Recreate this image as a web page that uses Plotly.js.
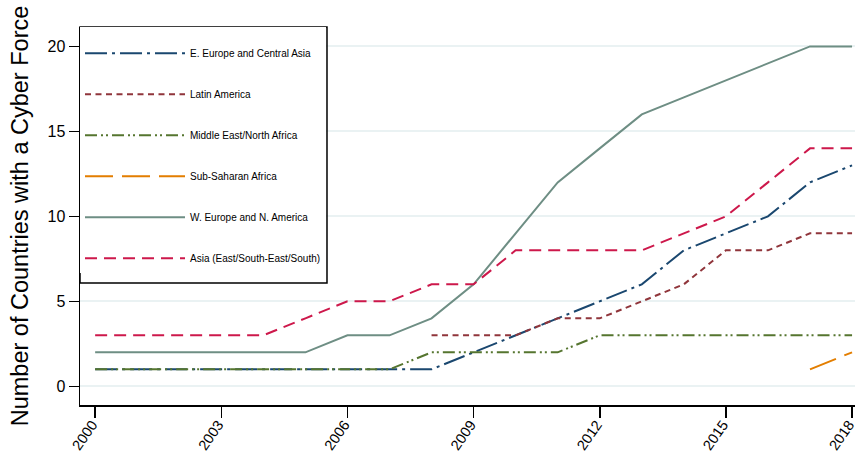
<!DOCTYPE html>
<html>
<head>
<meta charset="utf-8">
<script src="https://cdn.plot.ly/plotly-3.0.1.min.js"></script>
<style>html,body{margin:0;padding:0;background:#fff;}#chart{width:856px;height:456px;}</style>
</head>
<body>
<div id="chart"></div>
<script>
const years = [2000,2001,2002,2003,2004,2005,2006,2007,2008,2009,2010,2011,2012,2013,2014,2015,2016,2017,2018];
const eEurope   = [1,1,1,1,1,1,1,1,1,2,3,4,5,6,8,9,10,12,13];
const latinAm   = [null,null,null,null,null,null,null,null,3,3,3,4,4,5,6,8,8,9,9];
const mena      = [1,1,1,1,1,1,1,1,2,2,2,2,3,3,3,3,3,3,3];
const subSahara = [null,null,null,null,null,null,null,null,null,null,null,null,null,null,null,null,null,1,2];
const wEurope   = [2,2,2,2,2,2,3,3,4,6,9,12,14,16,17,18,19,20,20];
const asia      = [3,3,3,3,3,4,5,5,6,6,8,8,8,8,9,10,12,14,14];
const seriesNames = ["E. Europe and Central Asia","Latin America","Middle East/North Africa","Sub-Saharan Africa","W. Europe and N. America","Asia (East/South-East/South)"];
const xTicks = [2000,2003,2006,2009,2012,2015,2018];
const yTicks = [0,5,10,15,20];

const series = [eEurope, latinAm, mena, subSahara, wEurope, asia];
const colors = ["#1a476f","#90353b","#55752f","#e37e00","#6e8e84","#cd184b"];
const dashes = ["22px,5px,3px,5px","6px,4.5px","12px,4px,2px,3px,2px,4px","28px,9px","solid","12px,7px"];

const traces = series.map((s,i)=>({
  x: years, y: s, type:'scatter', mode:'lines', name: seriesNames[i],
  legendgroup: 'g'+i,
  line:{color:colors[i], width:2, dash:dashes[i]},
  connectgaps:false, hoverinfo:'skip'
}));

const layout = {
  width:856, height:456,
  margin:{l:80, r:1, t:27, b:51},
  paper_bgcolor:'#fff', plot_bgcolor:'#fff',
  font:{family:'"Liberation Sans", Arial, sans-serif', color:'#000'},
  showlegend:true,
  legend:{
    x:0, y:1, xanchor:'left', yanchor:'top',
    bgcolor:'#fff', bordercolor:'#000', borderwidth:0,
    font:{family:'"Liberation Sans", Arial, sans-serif', size:10, color:'#000'},
    itemwidth:100, tracegroupgap:22, traceorder:'grouped',
    title:{text:'&nbsp;', font:{size:9}}
  },
  shapes:[
    {type:'rect', xref:'paper', yref:'paper', x0:0, x1:0.3187, y0:0.3228, y1:1,
     fillcolor:'#fff', line:{width:0}, layer:'between'},
    {type:'rect', xref:'paper', yref:'paper', x0:0, x1:0.3187, y0:0.3228, y1:1,
     fillcolor:'rgba(0,0,0,0)', line:{color:'#000', width:1.5}, layer:'above'}
  ],
  xaxis:{
    range:[1999.64, 2018.07], tickvals:xTicks, ticktext:xTicks.map(String),
    tickangle:-55, ticks:'outside', ticklen:11, tickwidth:1.5, tickcolor:'#000',
    showline:true, linecolor:'#000', linewidth:1.5, showgrid:false, zeroline:false,
    ticklabeloverflow:'allow', ticklabelstandoff:-7, ticklabelshift:-3,
    tickfont:{size:14.5, color:'#000'}
  },
  yaxis:{
    range:[-1.1, 21.14], tickvals:yTicks, ticktext:yTicks.map(String),
    ticks:'outside', ticklen:10, tickwidth:1.5, tickcolor:'#000',
    showline:true, linecolor:'#000', linewidth:1.5,
    showgrid:true, gridcolor:'#eaf2f3', gridwidth:2, zeroline:false,
    tickfont:{size:16, color:'#000'},
    title:{text:'Number of Countries with a Cyber Force', font:{size:23.5, color:'#000'}, standoff:12}
  }
};

Plotly.newPlot('chart', traces, layout, {displayModeBar:false, staticPlot:true});
</script>
</body>
</html>
